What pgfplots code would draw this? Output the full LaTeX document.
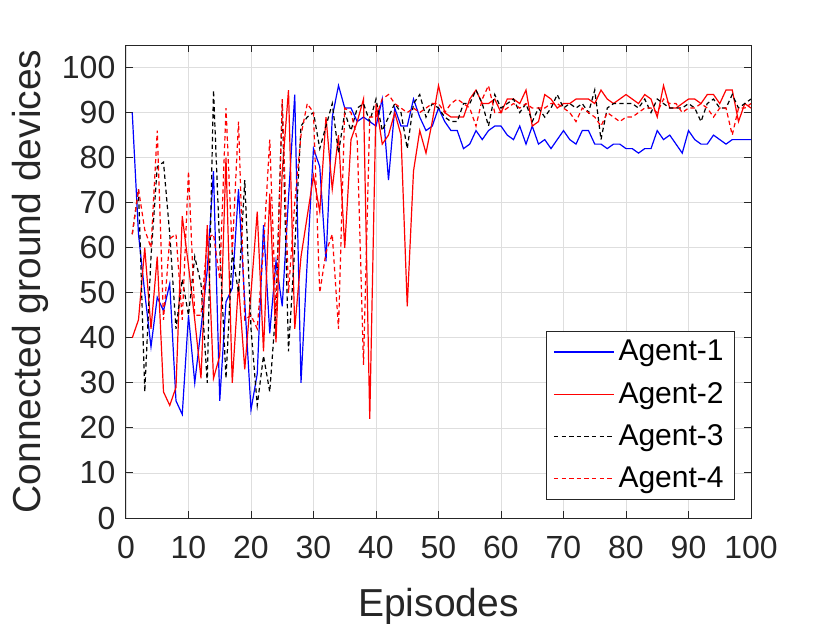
\documentclass[border=0pt]{standalone}
\usepackage{pgfplots}
\pgfplotsset{compat=1.18}
\usepackage{fontspec}
\setmainfont{Liberation Sans}
\begin{document}
\begin{tikzpicture}
\useasboundingbox (-63pt,-52.5pt) rectangle (352pt,259pt);
\begin{axis}[
  at={(0,0)}, anchor=south west,
  scale only axis, width=312.5pt, height=236.5pt,
  xmin=0, xmax=100, ymin=0, ymax=105,
  xtick={0,10,...,100}, ytick={0,10,...,100},
  tick align=inside, major tick length=3.5pt,
  grid=major, major grid style={color=black!13, line width=0.4pt},
  axis line style={color=black!85, line width=0.5pt},
  every tick/.style={color=black!85, line width=0.5pt},
  /pgf/number format/assume math mode=true,
  ticklabel style={font=\fontsize{16}{19}\selectfont, color=black!85},
  yticklabel style={xshift=-1.8pt},
  xticklabel style={yshift=-5.5pt},
  label style={font=\fontsize{19.5}{23}\selectfont, color=black!85},
  xlabel={Episodes}, ylabel={Connected ground devices},
  xlabel style={at={(axis description cs:0.5,-0.1865)}, anchor=center},
  ylabel style={at={(axis description cs:-0.1536,0.5)}, anchor=center},
  legend style={at={(0.9744,0.038)}, anchor=south east, draw=black!85, line width=0.4pt,
    font=\fontsize{15}{18}\selectfont, row sep=5.2pt, inner xsep=3.5pt, inner ysep=2.5pt, cells={anchor=west}},
  legend image code/.code={\draw[#1] (0pt,0pt) -- (30pt,0pt);},
]
\addplot[color=blue, line width=0.6pt] coordinates {
(1,90)(2,63)(3,50)(4,38)(5,49)(6,46)(7,52)(8,26)(9,23)(10,45)
(11,30)(12,42)(13,55)(14,77)(15,26)(16,48)(17,51)(18,73)(19,48)(20,24)
(21,32)(22,65)(23,41)(24,57)(25,47)(26,71)(27,94)(28,30)(29,57)(30,82)
(31,78)(32,57)(33,89)(34,96)(35,91)(36,91)(37,88)(38,89)(39,88)(40,87)
(41,93)(42,75)(43,91)(44,87)(45,87)(46,93)(47,89)(48,86)(49,87)(50,91)
(51,88)(52,86)(53,86)(54,82)(55,83)(56,86)(57,84)(58,86)(59,87)(60,87)
(61,85)(62,84)(63,87)(64,83)(65,87)(66,83)(67,84)(68,82)(69,84)(70,86)
(71,84)(72,83)(73,86)(74,86)(75,83)(76,83)(77,82)(78,83)(79,83)(80,82)
(81,82)(82,81)(83,82)(84,82)(85,86)(86,84)(87,85)(88,83)(89,81)(90,86)
(91,84)(92,83)(93,83)(94,85)(95,84)(96,83)(97,84)(98,84)(99,84)(100,84)};
\addlegendentry{Agent-1}
\addplot[color=red, line width=0.6pt] coordinates {
(1,40)(2,44)(3,60)(4,42)(5,58)(6,28)(7,25)(8,29)(9,67)(10,56)
(11,44)(12,31)(13,65)(14,31)(15,36)(16,80)(17,30)(18,52)(19,33)(20,50)
(21,68)(22,37)(23,72)(24,39)(25,77)(26,95)(27,42)(28,58)(29,67)(30,76)
(31,68)(32,89)(33,73)(34,85)(35,60)(36,84)(37,88)(38,93)(39,22)(40,92)
(41,83)(42,85)(43,90)(44,85)(45,47)(46,77)(47,86)(48,81)(49,88)(50,96)
(51,90)(52,89)(53,89)(54,89)(55,93)(56,95)(57,92)(58,92)(59,93)(60,90)
(61,93)(62,93)(63,92)(64,95)(65,87)(66,88)(67,94)(68,93)(69,91)(70,92)
(71,92)(72,93)(73,93)(74,93)(75,92)(76,95)(77,93)(78,92)(79,93)(80,94)
(81,93)(82,92)(83,94)(84,93)(85,89)(86,96)(87,91)(88,91)(89,92)(90,93)
(91,93)(92,92)(93,94)(94,94)(95,92)(96,95)(97,95)(98,88)(99,92)(100,91)};
\addlegendentry{Agent-2}
\addplot[color=black, line width=0.6pt, dash pattern=on 2.2pt off 1.6pt] coordinates {
(1,63)(2,73)(3,28)(4,58)(5,78)(6,79)(7,63)(8,42)(9,53)(10,45)
(11,58)(12,52)(13,30)(14,95)(15,60)(16,31)(17,59)(18,50)(19,75)(20,42)
(21,25)(22,36)(23,28)(24,47)(25,92)(26,37)(27,60)(28,87)(29,89)(30,90)
(31,82)(32,87)(33,92)(34,81)(35,90)(36,86)(37,91)(38,92)(39,88)(40,93)
(41,86)(42,89)(43,92)(44,90)(45,82)(46,92)(47,94)(48,89)(49,92)(50,91)
(51,89)(52,88)(53,88)(54,92)(55,92)(56,95)(57,92)(58,87)(59,94)(60,91)
(61,92)(62,93)(63,90)(64,92)(65,88)(66,91)(67,89)(68,91)(69,94)(70,91)
(71,92)(72,91)(73,92)(74,90)(75,95)(76,84)(77,91)(78,92)(79,92)(80,92)
(81,92)(82,91)(83,93)(84,90)(85,93)(86,92)(87,91)(88,91)(89,91)(90,92)
(91,91)(92,88)(93,92)(94,93)(95,91)(96,91)(97,94)(98,91)(99,92)(100,93)};
\addlegendentry{Agent-3}
\addplot[color=red, draw=red, line width=0.6pt, dash pattern=on 2.2pt off 1.6pt] coordinates {
(1,63)(2,73)(3,64)(4,60)(5,86)(6,44)(7,62)(8,63)(9,44)(10,77)
(11,45)(12,45)(13,62)(14,63)(15,53)(16,91)(17,59)(18,88)(19,44)(20,45)
(21,42)(22,60)(23,84)(24,45)(25,93)(26,50)(27,70)(28,85)(29,92)(30,90)
(31,50)(32,59)(33,63)(34,42)(35,91)(36,90)(37,84)(38,34)(39,89)(40,89)
(41,93)(42,94)(43,92)(44,91)(45,90)(46,91)(47,90)(48,91)(49,92)(50,92)
(51,90)(52,92)(53,93)(54,92)(55,91)(56,87)(57,93)(58,96)(59,90)(60,90)
(61,91)(62,92)(63,91)(64,92)(65,91)(66,91)(67,91)(68,92)(69,92)(70,91)
(71,90)(72,88)(73,91)(74,90)(75,89)(76,87)(77,90)(78,89)(79,88)(80,89)
(81,89)(82,90)(83,91)(84,91)(85,90)(86,93)(87,92)(88,92)(89,90)(90,91)
(91,91)(92,92)(93,91)(94,89)(95,91)(96,91)(97,85)(98,91)(99,91)(100,92)};
\addlegendentry{Agent-4}
\end{axis}
\end{tikzpicture}
\end{document}
